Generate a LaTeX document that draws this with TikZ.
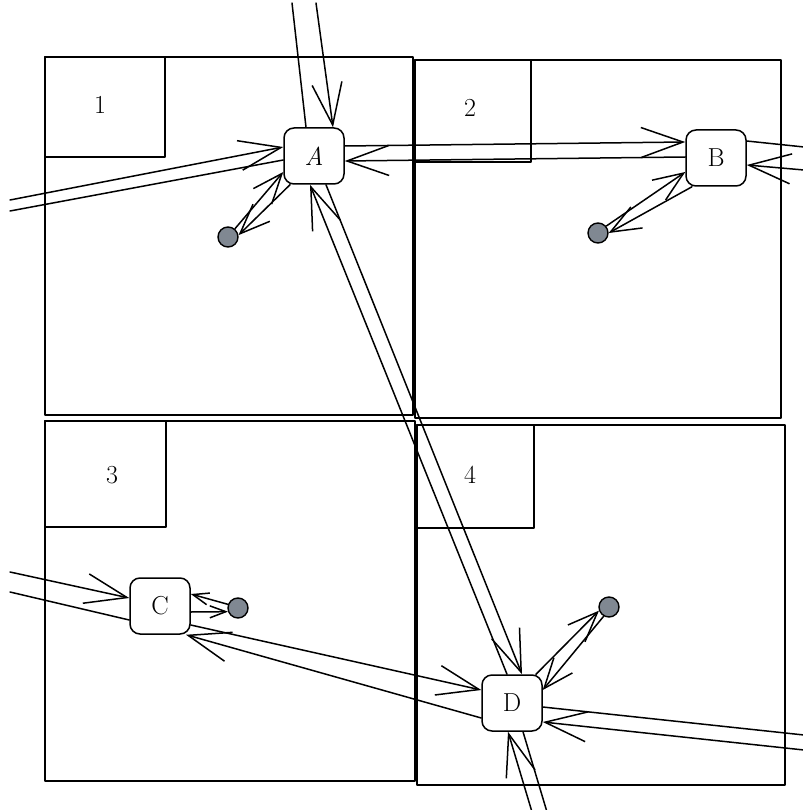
\documentclass[tikz,border=0pt]{standalone}
\usepackage{fontspec}
\usetikzlibrary{arrows.meta}
\definecolor{dotgray}{RGB}{128,136,146}
\begin{document}
\begin{tikzpicture}[x=1pt,y=-1pt,
  line join=round, line cap=round,
  quad/.style={draw, line width=1.7pt},
  lbl/.style={font=\fontsize{26}{30}\selectfont},
  nd/.style={draw, line width=1.5pt, rounded corners=10pt, minimum width=60pt, minimum height=56pt, fill=white, inner sep=0pt, font=\fontsize{26}{30}\selectfont},
  dotn/.style={circle, draw, line width=1.4pt, fill=dotgray, minimum size=20pt, inner sep=0pt},
  con/.style={draw, line width=1.5pt},
  big/.style={con, -{Straight Barb[length=42pt,width=30pt]}},
  mid/.style={con, -{Straight Barb[length=30pt,width=24pt]}},
  sml/.style={con, -{Straight Barb[length=16pt,width=12pt]}},
]
\useasboundingbox (0,0) rectangle (802,810);
% quadrants
\draw[quad] (45,57) rectangle (413,415);
\draw[quad] (45,57) rectangle (165,157);
\node[lbl] (l1) at (100,105) {1};
\draw[quad] (415,60) rectangle (781,418);
\draw[quad] (415,60) rectangle (531,162);
\node[lbl] (l2) at (470,108) {2};
\draw[quad] (45,421) rectangle (415,781);
\draw[quad] (45,421) rectangle (166,527);
\node[lbl] (l3) at (112,475) {3};
\draw[quad] (417,425) rectangle (785,785);
\draw[quad] (417,425) rectangle (534,528);
\node[lbl] (l4) at (470,475) {4};

% nodes
\node[nd] (A) at (314,156) {\itshape A};
\node[nd] (B) at (716,158) {B};
\node[nd] (C) at (160,606) {C};
\node[nd] (D) at (512,703) {D};
\node[dotn] (dA) at (228,237) {};
\node[dotn] (dB) at (598,233) {};
\node[dotn] (dC) at (238,608) {};
\node[dotn] (dD) at (609,607) {};

% free ends
\coordinate (eA1) at (10,200);
\coordinate (eA2) at (10,211);
\coordinate (eA3) at (316,3);
\coordinate (eA4) at (292,3);
\coordinate (eB1) at (804,147);
\coordinate (eB2) at (804,170);
\coordinate (eC1) at (10,572);
\coordinate (eC2) at (10,592);
\coordinate (eD1) at (804,735);
\coordinate (eD2) at (804,750);
\coordinate (eD3) at (532,812);
\coordinate (eD4) at (547,812);

% A left
\path[big] (eA1) -- ([yshift=9pt]A.west);
\path[con] ([yshift=-4pt]A.west) -- (eA2);
% A top
\path[big] (eA3) -- ([xshift=19pt]A.north);
\path[con] ([xshift=-8pt]A.north) -- (eA4);
% A - B
\path[big] ([yshift=10pt]A.east) -- ([yshift=16pt]B.west);
\path[big] ([yshift=1pt]B.west) -- ([yshift=-5pt]A.east);
% B right
\path[con] ([yshift=17pt]B.east) -- (eB1);
\path[big] (eB2) -- ([yshift=-7pt]B.east);
% B - dot
\path[mid] (dB.40) -- ([yshift=-14pt]B.west);
\path[mid] ([xshift=-24pt]B.south) -- (dB.0);
% A - dot
\path[mid] (dA.50) -- ([yshift=-16pt]A.west);
\path[mid] ([xshift=-24pt]A.south) -- (dA.10);
% A - D
\path[big] ([xshift=-5pt]D.north) -- ([xshift=-4pt]A.south);
\path[big] ([xshift=12pt]A.south) -- ([xshift=10pt]D.north);
% C left
\path[big] (eC1) -- ([yshift=8pt]C.west);
\path[con] ([yshift=-14pt]C.west) -- (eC2);
% C - dot
\path[sml] (dC.160) -- ([yshift=12pt]C.east);
\path[sml] ([yshift=-6pt]C.east) -- (dC.200);
% C - D
\path[big] ([yshift=-19pt]C.east) -- ([yshift=13pt]D.west);
\path[big] ([yshift=-15pt]D.west) -- ([xshift=26pt]C.south);
% D right
\path[con] ([yshift=-4pt]D.east) -- (eD1);
\path[big] (eD2) -- ([yshift=-19pt]D.east);
% D bottom
\path[big] (eD3) -- ([xshift=-4pt]D.south);
\path[con] ([xshift=11pt]D.south) -- (eD4);
% D - dot
\path[mid] ([xshift=24pt]D.north) -- (dD.200);
\path[mid] (dD.240) -- ([yshift=13pt]D.east);
\end{tikzpicture}
\end{document}
